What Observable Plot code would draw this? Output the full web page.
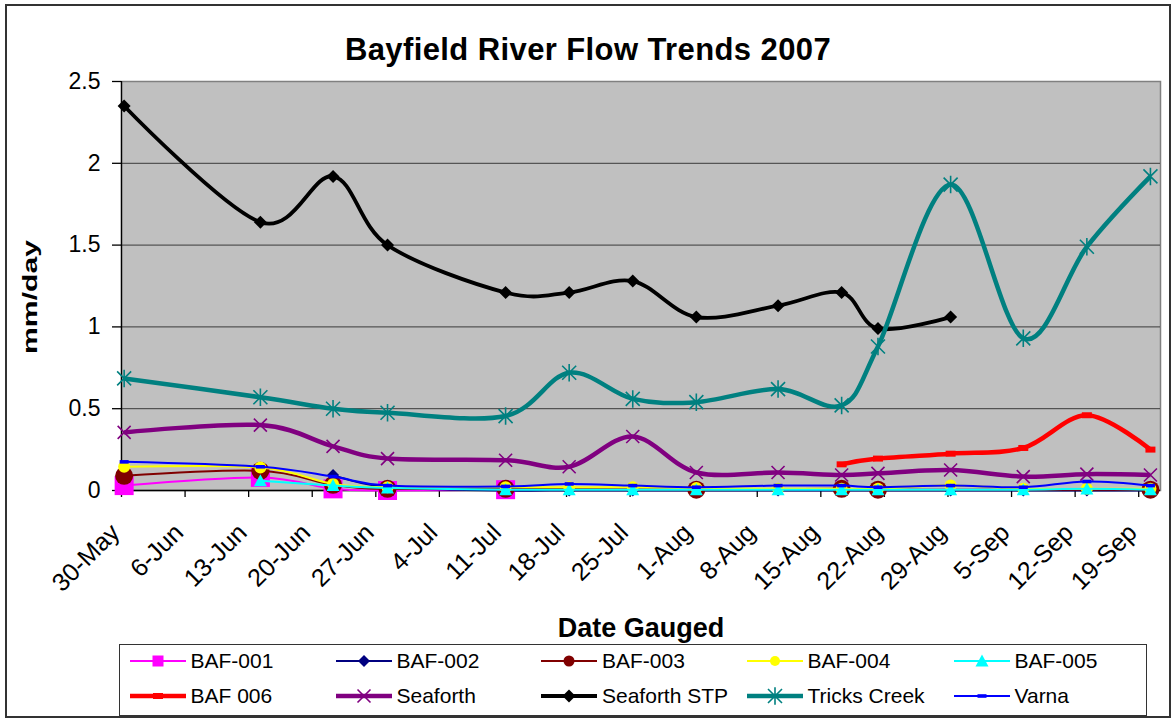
<!DOCTYPE html>
<html>
<head>
<meta charset="utf-8">
<script src="https://cdn.jsdelivr.net/npm/d3@7"></script>
<script src="https://cdn.jsdelivr.net/npm/@observablehq/plot@0.6"></script>
<style>
  body { margin: 0; background: #fff; font-family: "Liberation Sans", Arial, sans-serif; }
  #chart { position: relative; width: 1175px; height: 718px; overflow: hidden; background: #fff; }
  #plot { position: absolute; left: 0; top: 0; }
  #title { position: absolute; left: 6px; width: 1164px; top: 34px; text-align: center;
           font-weight: bold; font-size: 31px; line-height: 31px; letter-spacing: 0.4px; color: #000; }
  #legend { position: absolute; left: 119px; top: 644px; width: 1028px; height: 72px;
            box-sizing: border-box; border: 1.5px solid #333; background: #fff; }
  .item { position: absolute; display: flex; align-items: center; height: 26px;
          font-size: 21px; color: #000; white-space: nowrap; }
  .item svg { display: block; margin-right: 5px; }
  #border { position: absolute; left: 5px; top: 4px; width: 1166px; height: 714px;
            box-sizing: border-box; border: 2px solid #333; pointer-events: none; }
</style>
</head>
<body>
<div id="chart">
  <div id="plot"></div>
  <div id="title">Bayfield River Flow Trends 2007</div>
  <div id="legend"></div>
  <div id="border"></div>
</div>
<script>
// Gauging dates (2007)
const gaugeDates = ["2007-05-30", "2007-06-14", "2007-06-22", "2007-06-28", "2007-07-11",
                    "2007-07-18", "2007-07-25", "2007-08-01", "2007-08-10", "2007-08-17",
                    "2007-08-21", "2007-08-29", "2007-09-06", "2007-09-13", "2007-09-20"];

// Flow per station, mm/day (null = not gauged)
const baf001      = [0.03, 0.08, 0.01, 0.0, 0.005, null, null, null, null, null, null, null, null, null, null];
const baf002      = [null, null, 0.095, 0.02, 0.0, 0.0, 0.0, 0.0, 0.0, 0.0, 0.0, 0.0, 0.0, 0.0, 0.0];
const baf003      = [0.09, 0.12, 0.035, 0.01, 0.01, null, null, 0.005, null, 0.01, 0.005, null, null, null, 0.005];
const baf004      = [0.145, 0.14, 0.04, 0.02, 0.02, 0.02, 0.02, 0.015, 0.01, 0.01, 0.01, 0.03, 0.01, 0.01, 0.01];
const baf005      = [null, 0.06, 0.03, 0.015, 0.005, 0.005, 0.005, 0.005, 0.005, 0.005, 0.005, 0.005, 0.005, 0.01, 0.005];
const baf006      = [null, null, null, null, null, null, null, null, null, 0.16, 0.195, 0.225, 0.26, 0.46, 0.25];
const seaforth    = [0.355, 0.40, 0.27, 0.195, 0.185, 0.145, 0.33, 0.11, 0.11, 0.095, 0.105, 0.125, 0.085, 0.10, 0.095];
const seaforthSTP = [2.35, 1.64, 1.92, 1.50, 1.21, 1.21, 1.28, 1.06, 1.13, 1.21, 0.99, 1.06, null, null, null];
const tricksCreek = [0.685, 0.57, 0.50, 0.475, 0.455, 0.72, 0.56, 0.54, 0.62, 0.52, 0.88, 1.87, 0.93, 1.49, 1.92];
const varna       = [0.175, 0.145, 0.085, 0.03, 0.025, 0.04, 0.03, 0.02, 0.03, 0.03, 0.02, 0.03, 0.02, 0.055, 0.03];

const seriesNames  = ["BAF-001", "BAF-002", "BAF-003", "BAF-004", "BAF-005",
                      "BAF 006", "Seaforth", "Seaforth STP", "Tricks Creek", "Varna"];
const seriesValues = [baf001, baf002, baf003, baf004, baf005,
                      baf006, seaforth, seaforthSTP, tricksCreek, varna];

// Axis ticks
const tickDates = ["2007-05-30", "2007-06-06", "2007-06-13", "2007-06-20", "2007-06-27",
                   "2007-07-04", "2007-07-11", "2007-07-18", "2007-07-25", "2007-08-01",
                   "2007-08-08", "2007-08-15", "2007-08-22", "2007-08-29", "2007-09-05",
                   "2007-09-12", "2007-09-19"];
const yTicks = [0, 0.5, 1, 1.5, 2, 2.5];

// Marker outlines; h is the half-size in pixels
const shapes = {
  square:   (c, h) => { c.rect(-h, -h, 2 * h, 2 * h); },
  diamond:  (c, h) => { c.moveTo(0, -h); c.lineTo(h, 0); c.lineTo(0, h); c.lineTo(-h, 0); c.closePath(); },
  circle:   (c, h) => { c.moveTo(h, 0); c.arc(0, 0, h, 0, 2 * Math.PI); },
  triangle: (c, h) => { c.moveTo(0, -h); c.lineTo(h, 0.85 * h); c.lineTo(-h, 0.85 * h); c.closePath(); },
  dash:     (c, h) => { c.rect(-h, -0.4 * h, 2 * h, 0.8 * h); },
  bar:      (c, h) => { c.rect(-h, -0.6 * h, 2 * h, 1.2 * h); },
  times:    (c, h) => { c.moveTo(-h, -h); c.lineTo(h, h); c.moveTo(-h, h); c.lineTo(h, -h); },
  asterisk: (c, h) => { c.moveTo(-h, -h); c.lineTo(h, h); c.moveTo(-h, h); c.lineTo(h, -h);
                        c.moveTo(0, -1.25 * h); c.lineTo(0, 1.25 * h); }
};
// Plot hands symbols an area of pi*r^2, so r comes back as the half-size
const toSymbol = draw => ({ draw(ctx, size) { draw(ctx, Math.sqrt(size / Math.PI)); } });

const look = {
  "BAF-001":      { color: "#FF00FF", width: 2,   shape: "square",   h: 9.5, lh: 5.5, outline: false },
  "BAF-002":      { color: "#000080", width: 2,   shape: "diamond",  h: 6,   lh: 6,   outline: false },
  "BAF-003":      { color: "#800000", width: 2,   shape: "circle",   h: 9,   lh: 5.5, outline: false },
  "BAF-004":      { color: "#FFFF00", width: 2,   shape: "circle",   h: 6,   lh: 5,   outline: false },
  "BAF-005":      { color: "#00FFFF", width: 2,   shape: "triangle", h: 6.5, lh: 6.5, outline: false },
  "BAF 006":      { color: "#FF0000", width: 4.5, shape: "bar",      h: 5,   lh: 5,   outline: false },
  "Seaforth":     { color: "#800080", width: 4.5, shape: "times",    h: 6.5, lh: 6.5, outline: true },
  "Seaforth STP": { color: "#000000", width: 3.8, shape: "diamond",  h: 6.5, lh: 6.5, outline: false },
  "Tricks Creek": { color: "#008080", width: 4.5, shape: "asterisk", h: 7,   lh: 7,   outline: true },
  "Varna":        { color: "#0000FF", width: 2,   shape: "dash",     h: 4.5, lh: 4.5, outline: false }
};

// Readings are placed a little into their day, as on a day-based time axis
const dayOffsetMs = 7 * 3600 * 1000;
const toDate = s => new Date(Date.parse(s + "T00:00:00Z"));

const rows = [];
seriesNames.forEach((name, i) => {
  seriesValues[i].forEach((v, j) => {
    if (v != null) rows.push({ series: name, date: new Date(toDate(gaugeDates[j]).getTime() + dayOffsetMs), value: v });
  });
});

const xStart = toDate("2007-05-30");
const xEnd = new Date(xStart.getTime() + 114.4 * 86400000);
const fmt = d3.utcFormat("%-d-%b");

const seriesMarks = seriesNames.flatMap(name => {
  const s = look[name];
  const data = rows.filter(d => d.series === name);
  return [
    Plot.line(data, { x: "date", y: "value", stroke: s.color, strokeWidth: s.width, curve: "cardinal",
                      strokeLinejoin: "round", strokeLinecap: "butt" }),
    Plot.dot(data, s.outline
      ? { x: "date", y: "value", symbol: toSymbol(shapes[s.shape]), r: s.h, fill: "none", stroke: s.color, strokeWidth: 1.6 }
      : { x: "date", y: "value", symbol: toSymbol(shapes[s.shape]), r: s.h, fill: s.color, stroke: "none" })
  ];
});

const chart = Plot.plot({
  width: 1175,
  height: 645,
  marginLeft: 121,
  marginRight: 15,
  marginTop: 81,
  marginBottom: 155,
  style: { background: "transparent", fontFamily: "Liberation Sans, Arial, sans-serif", color: "#000" },
  x: { type: "utc", domain: [xStart, xEnd], label: null },
  y: { domain: [0, 2.5], label: null },
  marks: [
    Plot.frame({ fill: "#C0C0C0", stroke: "#808080", strokeWidth: 1.5 }),
    Plot.gridY([0.5, 1, 1.5, 2], { stroke: "#3a3a3a", strokeOpacity: 1, strokeWidth: 1 }),
    Plot.ruleX([xStart], { stroke: "#000", strokeWidth: 1.3 }),
    Plot.ruleY([0], { stroke: "#000", strokeWidth: 1.3 }),
    Plot.axisY({ ticks: yTicks, tickSize: 9, tickPadding: 12, fontSize: 23, tickFormat: d => String(d),
                 label: null, stroke: "#000", strokeWidth: 1.3 }),
    Plot.axisX({ ticks: tickDates.map(toDate), tickSize: 7, tickFormat: () => "", label: null,
                 stroke: "#000", strokeWidth: 1.3 }),
    Plot.text(tickDates.map(toDate), { x: d => d, frameAnchor: "bottom", text: d => fmt(d),
               rotate: -45, textAnchor: "end", lineAnchor: "middle", dx: -6, dy: 38, fontSize: 25, fill: "#000" }),
    Plot.text(["Date Gauged"], { frameAnchor: "bottom", textAnchor: "middle", lineAnchor: "middle", dy: 138,
               fontSize: 27, fontWeight: "bold", fill: "#000" }),
    Plot.text(["mm/day"], { frameAnchor: "left", textAnchor: "middle", lineAnchor: "middle", dx: -91, dy: 11,
               rotate: -90, fontSize: 20, fontWeight: "bold", fill: "#000" }),
    ...seriesMarks
  ]
});
// The axis title is set in a widened face
d3.select(chart).selectAll("text").filter(function () { return this.textContent === "mm/day"; })
  .attr("textLength", 114).attr("lengthAdjust", "spacingAndGlyphs");
document.getElementById("plot").appendChild(chart);

// Legend: five columns, two rows
const legend = document.getElementById("legend");
const colX = [130, 336, 541.5, 747, 954];
const rowY = [661, 696.5];
seriesNames.forEach((name, i) => {
  const s = look[name];
  const item = document.createElement("div");
  item.className = "item";
  item.style.left = (colX[i % 5] - 119 - 1.5) + "px";
  item.style.top = (rowY[Math.floor(i / 5)] - 644 - 1.5 - 13) + "px";
  const w = 56, hgt = 26;
  const svg = d3.create("svg").attr("width", w).attr("height", hgt);
  svg.append("line").attr("x1", 0).attr("x2", w).attr("y1", hgt / 2).attr("y2", hgt / 2)
     .attr("stroke", s.color).attr("stroke-width", s.width);
  const p = d3.path();
  shapes[s.shape](p, s.lh);
  svg.append("path").attr("d", p.toString()).attr("transform", `translate(${w / 2},${hgt / 2})`)
     .attr("fill", s.outline ? "none" : s.color)
     .attr("stroke", s.outline ? s.color : "none").attr("stroke-width", 1.6);
  item.appendChild(svg.node());
  const label = document.createElement("span");
  label.textContent = name;
  item.appendChild(label);
  legend.appendChild(item);
});
</script>
</body>
</html>
